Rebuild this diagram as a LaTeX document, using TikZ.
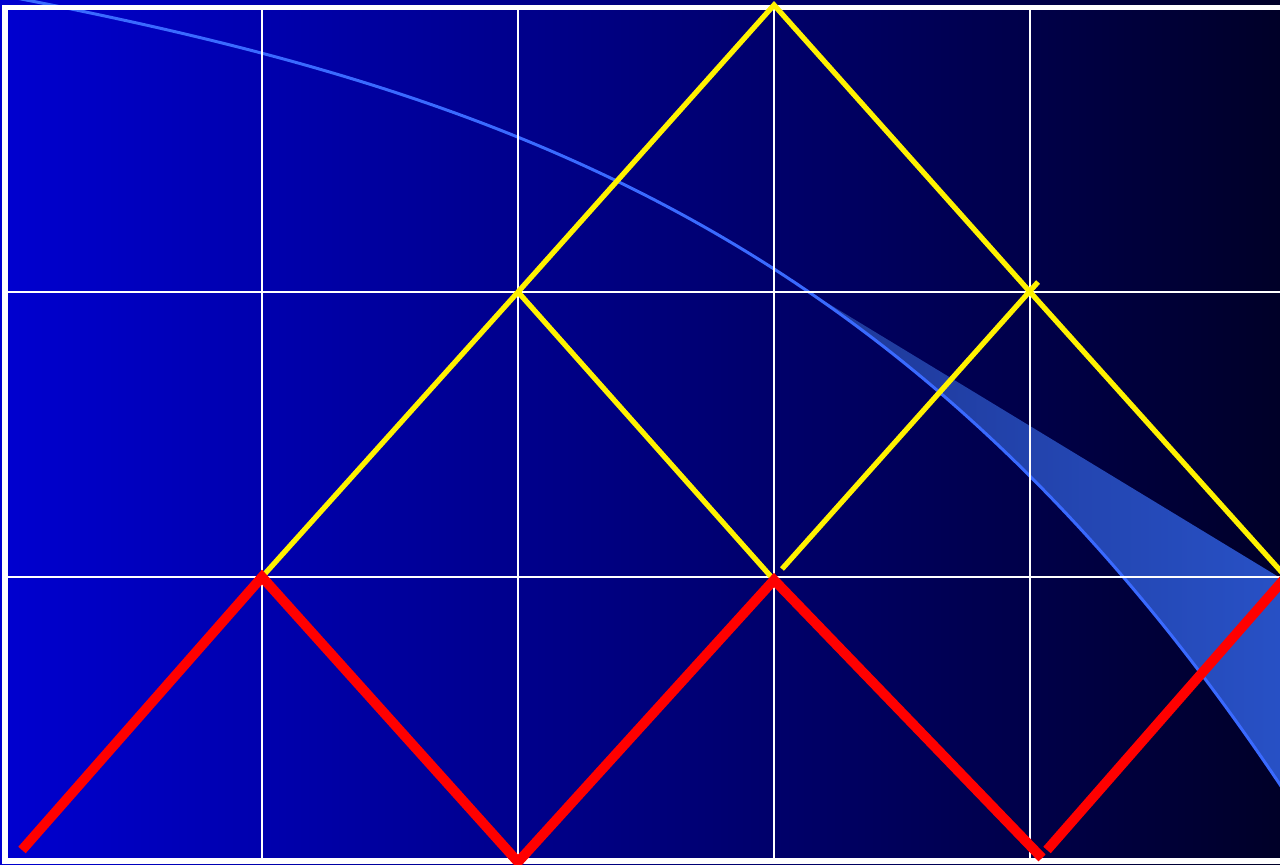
\documentclass[tikz,border=0pt]{standalone}
\usetikzlibrary{positioning, calc}
\definecolor{bgleft}{RGB}{0,0,208}
\definecolor{bgright}{RGB}{0,0,40}
\definecolor{arccol}{RGB}{58,106,255}
\definecolor{bandleft}{RGB}{30,55,150}
\definecolor{bandright}{RGB}{40,82,200}
\tikzset{
  gridline/.style={white, line width=0.8pt},
  frame/.style={white, line width=1.5pt},
  ray/.style={yellow, line width=1.5pt},
  wave/.style={red, line width=2.8pt, line join=miter},
  arcline/.style={arccol, line width=0.85pt},
}

\begin{document}
\begin{tikzpicture}[x=0.01cm, y=-0.01cm]
    \useasboundingbox (0,0) rectangle (1280,865);
    \clip (0,0) rectangle (1280,865);
    \shade[left color=bgleft, right color=bgright] (0,0) rectangle (1280,865);
    % arc ends
    \coordinate (a0) at (-10,-7);
    \coordinate (a1) at (1300,815);
    % band under the arc
    \begin{scope}
      \clip (a0) .. controls (500,90) and (920,230) .. (a1) -- (1310,-10) -- cycle;
      \shade[left color=bandleft, right color=bandright] (796,284) -- (1310,596) -- (1310,900) -- (796,900) -- cycle;
    \end{scope}
    \draw[arcline] (a0) .. controls (500,90) and (920,230) .. (a1);
    % grid
    \foreach \x in {262,518,774,1030}
      \draw[gridline] (\x,8) -- (\x,860);
    \foreach \y in {292,577}
      \draw[gridline] (6,\y) -- (1290,\y);
    \draw[frame] (1290,7.5) -- (5,7.5) -- (5,861) -- (1290,861);
    % vertices
    \coordinate (top) at (774,5);
    \coordinate (ul) at (518,292);
    \coordinate (ur) at (1030,292);
    \coordinate (ml) at (262,577);
    \coordinate (mc) at (774,580);
    \coordinate (mr) at (1286,577);
    \coordinate (s1) at (782,569);
    \coordinate (s2) at (1038,282);
    \coordinate (b0) at (22,850);
    \coordinate (b1) at (518,862);
    \coordinate (b2) at (1042,858);
    \coordinate (b3) at (1047,850);
    % yellow rays
    \draw[ray] (ml) -- (ul) -- (top) -- (ur) -- (mr);
    \draw[ray] (ul) -- (mc);
    \draw[ray] (s1) -- (s2);
    % red zigzag
    \draw[wave] (b0) -- (ml) -- (b1) -- (mc) -- (b2);
    \draw[wave] (b3) -- (mr);
\end{tikzpicture}
\end{document}
